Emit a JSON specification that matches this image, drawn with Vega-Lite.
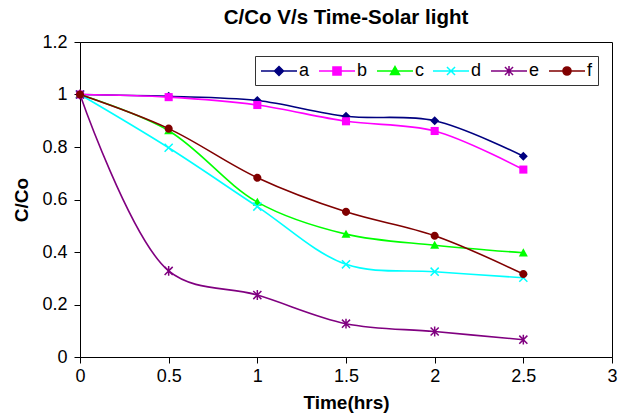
{
  "$schema": "https://vega.github.io/schema/vega-lite/v6.json",
  "width": 532,
  "height": 315,
  "autosize": {"type": "none"},
  "padding": {"left": 80, "top": 42, "right": 8, "bottom": 60},
  "background": "white",
  "title": {"text": "C/Co V/s Time-Solar light", "fontSize": 20.5, "fontWeight": "bold", "anchor": "middle", "offset": 5, "color": "black", "font": "Liberation Sans"},
  "data": {"values": [
    {"series": "a", "time": 0, "value": 1.0},
    {"series": "a", "time": 0.5, "value": 0.993},
    {"series": "a", "time": 1, "value": 0.977},
    {"series": "a", "time": 1.5, "value": 0.917},
    {"series": "a", "time": 2, "value": 0.9},
    {"series": "a", "time": 2.5, "value": 0.765},
    {"series": "b", "time": 0, "value": 1.0},
    {"series": "b", "time": 0.5, "value": 0.99},
    {"series": "b", "time": 1, "value": 0.96},
    {"series": "b", "time": 1.5, "value": 0.898},
    {"series": "b", "time": 2, "value": 0.861},
    {"series": "b", "time": 2.5, "value": 0.714},
    {"series": "c", "time": 0, "value": 1.0},
    {"series": "c", "time": 0.5, "value": 0.862},
    {"series": "c", "time": 1, "value": 0.59},
    {"series": "c", "time": 1.5, "value": 0.468},
    {"series": "c", "time": 2, "value": 0.426},
    {"series": "c", "time": 2.5, "value": 0.397},
    {"series": "d", "time": 0, "value": 1.0},
    {"series": "d", "time": 0.5, "value": 0.797},
    {"series": "d", "time": 1, "value": 0.573},
    {"series": "d", "time": 1.5, "value": 0.353},
    {"series": "d", "time": 2, "value": 0.325},
    {"series": "d", "time": 2.5, "value": 0.302},
    {"series": "e", "time": 0, "value": 1.0},
    {"series": "e", "time": 0.5, "value": 0.328},
    {"series": "e", "time": 1, "value": 0.236},
    {"series": "e", "time": 1.5, "value": 0.127},
    {"series": "e", "time": 2, "value": 0.097},
    {"series": "e", "time": 2.5, "value": 0.066},
    {"series": "f", "time": 0, "value": 1.0},
    {"series": "f", "time": 0.5, "value": 0.87},
    {"series": "f", "time": 1, "value": 0.683},
    {"series": "f", "time": 1.5, "value": 0.553},
    {"series": "f", "time": 2, "value": 0.462},
    {"series": "f", "time": 2.5, "value": 0.316}
  ]},
  "encoding": {
    "x": {"field": "time", "type": "quantitative", "title": "Time(hrs)",
      "scale": {"domain": [0, 3], "nice": false, "zero": false},
      "axis": {"values": [0, 0.5, 1, 1.5, 2, 2.5, 3], "format": "~g", "labelFlush": false, "labelPadding": 4, "titlePadding": 8}},
    "y": {"field": "value", "type": "quantitative", "title": "C/Co",
      "scale": {"domain": [0, 1.2], "nice": false},
      "axis": {"values": [0, 0.2, 0.4, 0.6, 0.8, 1, 1.2], "format": "~g", "labelFlush": false, "labelPadding": 7, "titlePadding": 10}}
  },
  "layer": [
    {
      "transform": [{"filter": "datum.series === 'a'"}],
      "mark": {"type": "line", "interpolate": "catmull-rom", "strokeWidth": 1.6, "color": "#000080",
        "point": {"filled": true, "color": "#000080", "opacity": 1, "size": 81, "strokeWidth": 1.5, "shape": "M0,-1L1,0L0,1L-1,0Z"}}
    },
    {
      "transform": [{"filter": "datum.series === 'b'"}],
      "mark": {"type": "line", "interpolate": "catmull-rom", "strokeWidth": 1.6, "color": "#FF00FF",
        "point": {"filled": true, "color": "#FF00FF", "opacity": 1, "size": 81, "strokeWidth": 1.5, "shape": "M-0.9,-0.9H0.9V0.9H-0.9Z"}}
    },
    {
      "transform": [{"filter": "datum.series === 'c'"}],
      "mark": {"type": "line", "interpolate": "catmull-rom", "strokeWidth": 1.6, "color": "#00FF00",
        "point": {"filled": true, "color": "#00FF00", "opacity": 1, "size": 81, "strokeWidth": 1.5, "shape": "M0,-1L1,0.8H-1Z"}}
    },
    {
      "transform": [{"filter": "datum.series === 'd'"}],
      "mark": {"type": "line", "interpolate": "catmull-rom", "strokeWidth": 1.6, "color": "#00FFFF",
        "point": {"filled": false, "color": "#00FFFF", "opacity": 1, "size": 81, "strokeWidth": 1.5, "shape": "M-0.9,-0.9L0.9,0.9M-0.9,0.9L0.9,-0.9"}}
    },
    {
      "transform": [{"filter": "datum.series === 'e'"}],
      "mark": {"type": "line", "interpolate": "catmull-rom", "strokeWidth": 1.6, "color": "#800080",
        "point": {"filled": false, "color": "#800080", "opacity": 1, "size": 81, "strokeWidth": 1.5, "shape": "M-0.9,-0.9L0.9,0.9M-0.9,0.9L0.9,-0.9M0,-1.1V1.1"}}
    },
    {
      "transform": [{"filter": "datum.series === 'f'"}],
      "mark": {"type": "line", "interpolate": "catmull-rom", "strokeWidth": 1.6, "color": "#800000",
        "point": {"filled": true, "color": "#800000", "opacity": 1, "size": 81, "strokeWidth": 1.5, "shape": "M-0.9,0A0.9,0.9 0 1,0 0.9,0A0.9,0.9 0 1,0 -0.9,0Z"}}
    },
    {
      "transform": [{"filter": "datum.time < 0"}],
      "mark": {"type": "point", "filled": true, "opacity": 1, "size": 324, "strokeWidth": 1.5},
      "encoding": {
        "stroke": {"field": "series", "type": "nominal",
          "scale": {"domain": ["a", "b", "c", "d", "e", "f"], "range": ["#000080", "#FF00FF", "#00FF00", "#00FFFF", "#800080", "#800000"]}},
        "fill": {"field": "series", "type": "nominal",
          "scale": {"domain": ["a", "b", "c", "d", "e", "f"], "range": ["#000080", "#FF00FF", "#00FF00", "#00FFFF", "#800080", "#800000"]}},
        "shape": {"field": "series", "type": "nominal",
          "scale": {"domain": ["a", "b", "c", "d", "e", "f"], "range": [
            "M-2,0H2M0,-0.5L0.5,0L0,0.5L-0.5,0Z",
            "M-2,0H2M-0.45,-0.45H0.45V0.45H-0.45Z",
            "M-2,0H2M0,-0.5L0.5,0.4H-0.5Z",
            "M-2,0H2M-0.45,-0.45L0.45,0.45M-0.45,0.45L0.45,-0.45",
            "M-2,0H2M-0.45,-0.45L0.45,0.45M-0.45,0.45L0.45,-0.45M0,-0.55V0.55",
            "M-2,0H2M-0.45,0A0.45,0.45 0 1,0 0.45,0A0.45,0.45 0 1,0 -0.45,0Z"
          ]}}
      }
    }
  ],
  "config": {
    "font": "Liberation Sans",
    "view": {"stroke": "#000000", "strokeWidth": 1},
    "axis": {"grid": false, "domainColor": "#000000", "domainWidth": 1, "tickColor": "#000000", "tickSize": 6, "labelFontSize": 18, "labelColor": "#000000", "labelFont": "Liberation Sans", "titleFontSize": 19, "titleFontWeight": "bold", "titleColor": "#000000", "titleFont": "Liberation Sans"},
    "legend": {"orient": "top-right", "offset": 14, "direction": "horizontal", "title": null, "strokeColor": "#333333", "fillColor": "white", "padding": 5, "symbolSize": 324, "symbolStrokeWidth": 1.5, "symbolOpacity": 1, "symbolOffset": 9, "labelOffset": 10, "labelFontSize": 18, "labelColor": "#000000", "labelFont": "Liberation Sans", "columnPadding": 6}
  }
}
